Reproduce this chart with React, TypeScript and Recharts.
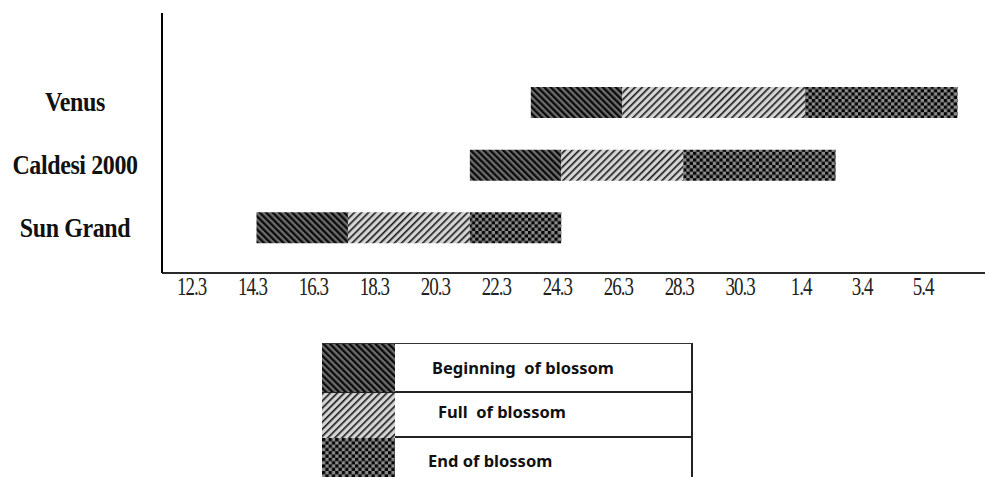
import { Bar, BarChart, Legend, XAxis, YAxis } from 'recharts'

// day 0 = 12.3 (12 March)
const varieties = ['Venus', 'Caldesi 2000', 'Sun Grand']
const startDay = [11, 9, 2]
const beginDays = [3, 3, 3]
const fullDays = [6, 4, 4]
const endDays = [5, 5, 3]

const tickDays = [0, 2, 4, 6, 8, 10, 12, 14, 16, 18, 20, 22, 24]
const tickLabels = ['12.3', '14.3', '16.3', '18.3', '20.3', '22.3', '24.3', '26.3', '28.3', '30.3', '1.4', '3.4', '5.4']

const phaseNames = ['Beginning  of blossom', 'Full  of blossom', 'End of blossom']

const data = varieties.map((name, i) => ({
  name,
  offset: startDay[i],
  begin: beginDays[i],
  full: fullDays[i],
  end: endDays[i],
}))

const legendRows = [
  { key: 'begin', height: 48, indent: 37, pad: 0 },
  { key: 'full', height: 45, indent: 43, pad: 6 },
  { key: 'end', height: 46, indent: 33, pad: 0 },
]

const YTick = ({ x, y, payload }: any) => (
  <g transform={`translate(${x - 87},${y + 9}) scale(1,1.12)`}>
    <text
      textAnchor="middle"
      fontFamily="'Liberation Serif', serif"
      fontWeight={700}
      fontSize={24}
      letterSpacing={-0.4}
      fill="#111"
    >
      {payload.value}
    </text>
  </g>
)

const XTick = ({ x, y, payload }: any) => (
  <g transform={`translate(${x - 4},${y + 22}) scale(1,1.3)`}>
    <text
      textAnchor="middle"
      fontFamily="'Liberation Serif', serif"
      fontSize={19}
      letterSpacing={-1}
      fill="#222"
    >
      {tickLabels[tickDays.indexOf(payload.value)]}
    </text>
  </g>
)

const PhaseLegend = () => (
  <div style={{ width: 371, fontFamily: "'Noto Sans', sans-serif", fontWeight: 700, fontSize: 16.5, color: '#111' }}>
    {legendRows.map((row, i) => (
      <div
        key={row.key}
        style={{
          display: 'flex',
          height: row.height,
          borderTop: i === 0 ? '1px solid #333' : '2px solid #222',
          borderRight: '2px solid #222',
          boxSizing: 'border-box',
        }}
      >
        <svg width={73} height={row.height} style={{ display: 'block', flex: 'none' }}>
          <rect width={73} height={row.height} fill={`url(#pat-${row.key})`} />
        </svg>
        <div
          style={{
            display: 'flex',
            alignItems: 'center',
            paddingLeft: row.indent,
            paddingBottom: row.pad,
            whiteSpace: 'pre',
          }}
        >
          {phaseNames[i]}
        </div>
      </div>
    ))}
  </div>
)

export default function App() {
  return (
    <div style={{ position: 'absolute', left: 0, top: 0, background: '#fff' }}>
      <BarChart
        width={985}
        height={477}
        data={data}
        layout="vertical"
        margin={{ top: 13, right: 0, bottom: 174, left: 0 }}
      >
        <defs>
          <pattern id="pat-begin" width={4.6} height={10} patternUnits="userSpaceOnUse" patternTransform="rotate(-45)">
            <rect width={4.6} height={10} fill="#6e6e6e" />
            <rect width={2.3} height={10} fill="#0a0a0a" />
          </pattern>
          <pattern id="pat-full" width={5} height={10} patternUnits="userSpaceOnUse" patternTransform="rotate(45)">
            <rect width={5} height={10} fill="#d4d4d4" />
            <rect width={1.6} height={10} fill="#1a1a1a" />
          </pattern>
          <pattern id="pat-end" width={6.6} height={6.6} patternUnits="userSpaceOnUse">
            <rect width={6.6} height={6.6} fill="#8c8c8c" />
            <rect width={3.3} height={3.3} fill="#050505" />
            <rect x={3.3} y={3.3} width={3.3} height={3.3} fill="#050505" />
          </pattern>
        </defs>
        <XAxis
          type="number"
          domain={[-1.1, 25.9]}
          allowDataOverflow
          ticks={tickDays}
          tick={<XTick />}
          tickLine={false}
          tickSize={0}
          tickMargin={0}
          height={30}
          axisLine={{ stroke: '#2a2a2a', strokeWidth: 2 }}
        />
        <YAxis
          type="category"
          dataKey="name"
          width={162}
          tick={<YTick />}
          tickLine={false}
          tickSize={0}
          tickMargin={0}
          padding={{ top: 58, bottom: 14 }}
          axisLine={{ stroke: '#000', strokeWidth: 2 }}
        />
        <Legend
          layout="horizontal"
          verticalAlign="middle"
          align="center"
          wrapperStyle={{ left: 322, top: 343, width: 371 }}
          content={<PhaseLegend />}
        />
        <Bar dataKey="offset" stackId="a" fill="transparent" barSize={31} legendType="none" isAnimationActive={false} />
        <Bar dataKey="begin" name={phaseNames[0]} stackId="a" fill="url(#pat-begin)" barSize={31} isAnimationActive={false} />
        <Bar dataKey="full" name={phaseNames[1]} stackId="a" fill="url(#pat-full)" barSize={31} isAnimationActive={false} />
        <Bar dataKey="end" name={phaseNames[2]} stackId="a" fill="url(#pat-end)" barSize={31} isAnimationActive={false} />
      </BarChart>
    </div>
  )
}
